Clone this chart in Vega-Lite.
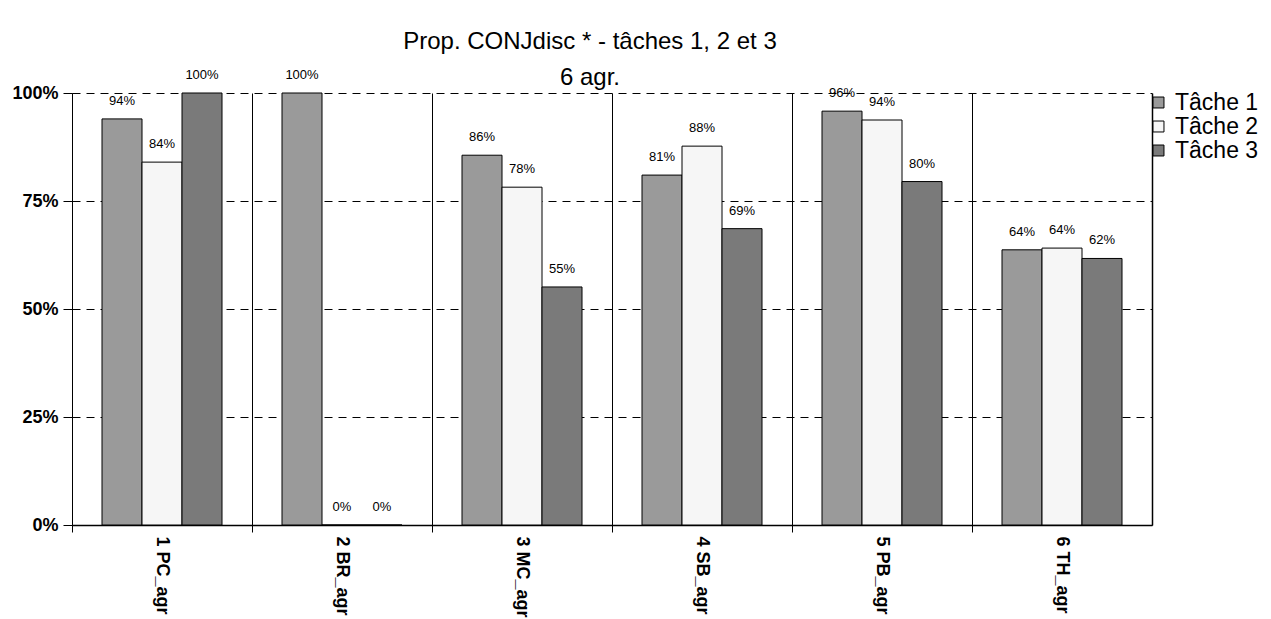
{
  "$schema": "https://vega.github.io/schema/vega-lite/v6.json",
  "width": 1080,
  "height": 432,
  "autosize": {"type": "none"},
  "padding": {"left": 72, "top": 93, "right": 119, "bottom": 94},
  "background": "white",
  "title": {
    "text": ["Prop. CONJdisc * - tâches 1, 2 et 3", "6 agr."],
    "font": "Liberation Sans",
    "fontSize": 24,
    "fontWeight": "normal",
    "color": "#000",
    "lineHeight": 36,
    "anchor": "middle",
    "dx": -22,
    "dy": 27,
    "offset": 6
  },
  "config": {
    "view": {"stroke": null},
    "axis": {"domainColor": "#000", "tickColor": "#000", "labelColor": "#000", "labelFont": "Liberation Sans"}
  },
  "data": {
    "values": [
      {"groupe": "1 PC_agr", "tache": "Tâche 1", "valeur": 0.94},
      {"groupe": "1 PC_agr", "tache": "Tâche 2", "valeur": 0.84},
      {"groupe": "1 PC_agr", "tache": "Tâche 3", "valeur": 1.0},
      {"groupe": "2 BR_agr", "tache": "Tâche 1", "valeur": 1.0},
      {"groupe": "2 BR_agr", "tache": "Tâche 2", "valeur": 0.0},
      {"groupe": "2 BR_agr", "tache": "Tâche 3", "valeur": 0.0},
      {"groupe": "3 MC_agr", "tache": "Tâche 1", "valeur": 0.856},
      {"groupe": "3 MC_agr", "tache": "Tâche 2", "valeur": 0.782},
      {"groupe": "3 MC_agr", "tache": "Tâche 3", "valeur": 0.551},
      {"groupe": "4 SB_agr", "tache": "Tâche 1", "valeur": 0.81},
      {"groupe": "4 SB_agr", "tache": "Tâche 2", "valeur": 0.877},
      {"groupe": "4 SB_agr", "tache": "Tâche 3", "valeur": 0.686},
      {"groupe": "5 PB_agr", "tache": "Tâche 1", "valeur": 0.958},
      {"groupe": "5 PB_agr", "tache": "Tâche 2", "valeur": 0.9375},
      {"groupe": "5 PB_agr", "tache": "Tâche 3", "valeur": 0.795},
      {"groupe": "6 TH_agr", "tache": "Tâche 1", "valeur": 0.637},
      {"groupe": "6 TH_agr", "tache": "Tâche 2", "valeur": 0.641},
      {"groupe": "6 TH_agr", "tache": "Tâche 3", "valeur": 0.617}
    ]
  },
  "layer": [
    {
      "mark": {"type": "bar", "stroke": "#000", "strokeWidth": 1},
      "encoding": {
        "x": {
          "field": "groupe", "type": "nominal", "sort": null,
          "scale": {"paddingInner": 0, "paddingOuter": 0},
          "axis": {"orient": "bottom", "bandPosition": 0, "grid": true, "gridColor": "#000", "gridWidth": 1, "gridOpacity": 1, "ticks": true, "tickSize": 7, "labels": false, "domain": true, "domainWidth": 1.5, "title": null}
        },
        "xOffset": {"field": "tache", "type": "nominal", "scale": {"paddingInner": 0, "paddingOuter": 0.75}},
        "y": {
          "field": "valeur", "type": "quantitative",
          "scale": {"domain": [0, 1], "nice": false},
          "axis": {"orient": "left", "values": [0, 0.25, 0.5, 0.75, 1], "format": ".0%", "labelFontSize": 18, "labelFontWeight": "bold", "grid": true, "gridDash": [8, 6], "gridColor": "#000", "gridOpacity": 1, "tickSize": 9, "labelPadding": 5, "title": null, "domainWidth": 1}
        },
        "fill": {
          "field": "tache", "type": "nominal",
          "scale": {"domain": ["Tâche 1", "Tâche 2", "Tâche 3"], "range": ["#9a9a9a", "#f6f6f6", "#7a7a7a"]},
          "legend": {"title": null, "orient": "none", "legendX": 1075, "legendY": -2, "symbolType": "square", "symbolSize": 120, "symbolStrokeColor": "#000", "symbolStrokeWidth": 1, "labelFont": "Liberation Sans", "labelFontSize": 23, "labelColor": "#000", "rowPadding": -3, "labelOffset": 5}
        }
      }
    },
    {
      "mark": {"type": "text", "dy": -18, "fontSize": 13, "font": "Liberation Sans", "fill": "#000"},
      "encoding": {
        "x": {
          "field": "groupe", "type": "nominal", "sort": null,
          "scale": {"paddingInner": 0, "paddingOuter": 0},
          "axis": {"orient": "bottom", "labels": true, "ticks": false, "grid": false, "domain": false, "labelAngle": 90, "labelFontWeight": "bold", "labelFontSize": 18, "labelPadding": 11, "title": null}
        },
        "xOffset": {"field": "tache", "type": "nominal", "scale": {"paddingInner": 0, "paddingOuter": 0.75}},
        "y": {
          "field": "valeur", "type": "quantitative",
          "scale": {"domain": [0, 1], "nice": false},
          "axis": {"orient": "right", "labels": false, "ticks": false, "grid": false, "domain": true, "domainWidth": 1.5, "title": null}
        },
        "text": {"field": "valeur", "type": "quantitative", "format": ".0%"}
      }
    }
  ],
  "resolve": {"axis": {"x": "independent", "y": "independent"}}
}
